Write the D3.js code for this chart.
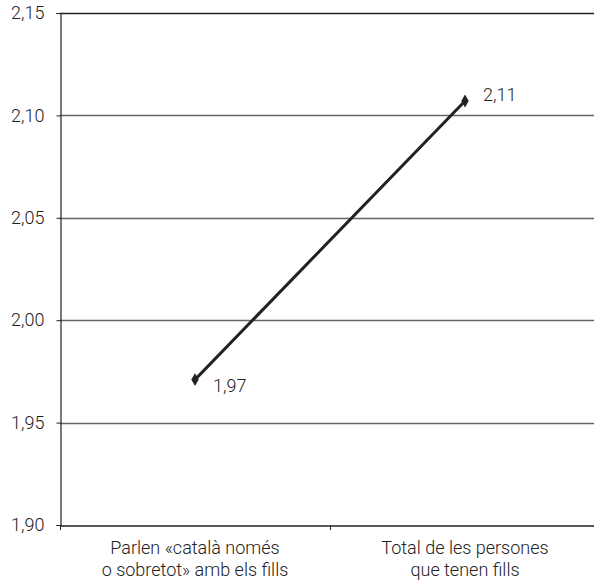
<!DOCTYPE html>
<html>
<head>
<meta charset="utf-8">
<script src="https://cdn.jsdelivr.net/npm/d3@7"></script>
<style>
  html, body { margin: 0; padding: 0; background: #fff; }
  svg { display: block; }
  text { font-family: Roboto, "Liberation Sans", sans-serif; font-weight: 300; fill: #222; }
</style>
</head>
<body>
<svg id="chart" width="594" height="580"></svg>
<script>
// Categories (two-line labels) and mean values
const categories = [
  ["Parlen «català només", "o sobretot» amb els fills"],
  ["Total de les persones", "que tenen fills"]
];
const values = [1.971, 2.107];
const yTicks = [1.90, 1.95, 2.00, 2.05, 2.10, 2.15];

const svg = d3.select("#chart");
const plotLeft = 60, plotTop = 13, plotBottom = 525, plotRight = 600;
const fontSize = 18;

const x = d3.scaleBand().domain(d3.range(categories.length)).range([plotLeft, plotRight]);
const y = d3.scaleLinear().domain([1.90, 2.15]).range([plotBottom, plotTop]);
const fmt = v => d3.format(".2f")(v).replace(".", ",");

// horizontal gridlines
svg.append("g")
  .selectAll("line")
  .data(yTicks.slice(1, -1))
  .join("line")
  .attr("x1", plotLeft).attr("x2", 594)
  .attr("y1", d => Math.round(y(d)) + 0.5).attr("y2", d => Math.round(y(d)) + 0.5)
  .attr("stroke", "#666").attr("stroke-width", 1.3);

// top border line
svg.append("line")
  .attr("x1", plotLeft).attr("x2", 594)
  .attr("y1", y(2.15) + 0.5).attr("y2", y(2.15) + 0.5)
  .attr("stroke", "#222").attr("stroke-width", 1.3);

// y axis
const yAxis = d3.axisLeft(y).tickValues(yTicks).tickFormat(fmt).tickSize(4).tickPadding(12);
const gy = svg.append("g").attr("transform", `translate(${plotLeft + 0.5},0)`).call(yAxis);
gy.select(".domain").attr("stroke", "#222").attr("stroke-width", 1.2);
gy.selectAll(".tick line").attr("stroke", "#222");
gy.selectAll("text").attr("font-size", fontSize).attr("fill", "#222")
  .style("font-family", "Roboto, sans-serif").style("font-weight", 300);

// x axis
const xAxis = d3.axisBottom(x).tickSize(0).tickFormat("");
const gx = svg.append("g").attr("transform", `translate(0,${plotBottom + 0.5})`).call(xAxis);
gx.select(".domain").attr("stroke", "#222").attr("stroke-width", 1.3);
gx.selectAll(".tick").remove();
// category boundary ticks
svg.append("g").selectAll("line")
  .data(d3.range(categories.length))
  .join("line")
  .attr("x1", i => x(i) + 0.5).attr("x2", i => x(i) + 0.5)
  .attr("y1", plotBottom).attr("y2", plotBottom + 5)
  .attr("stroke", "#222");

// category labels
svg.append("g").selectAll("text")
  .data(categories)
  .join("text")
  .attr("text-anchor", "middle")
  .attr("font-size", fontSize)
  .attr("transform", (d, i) => `translate(${x(i) + x.bandwidth() / 2},0)`)
  .selectAll("tspan")
  .data(d => d)
  .join("tspan")
  .attr("x", 0)
  .attr("y", (d, j) => 554 + j * 22)
  .text(d => d);

// line series
const line = d3.line()
  .x((d, i) => x(i) + x.bandwidth() / 2)
  .y(d => y(d));
svg.append("path")
  .datum(values)
  .attr("d", line)
  .attr("fill", "none")
  .attr("stroke", "#222")
  .attr("stroke-width", 3);

// diamond markers
const diamond = d3.symbol().type(d3.symbolDiamond).size(48);
svg.append("g").selectAll("path")
  .data(values)
  .join("path")
  .attr("d", diamond)
  .attr("transform", (d, i) => `translate(${x(i) + x.bandwidth() / 2},${y(d)})`)
  .attr("fill", "#222");

// value labels
svg.append("g").selectAll("text")
  .data(values)
  .join("text")
  .attr("x", (d, i) => x(i) + x.bandwidth() / 2 + 18)
  .attr("y", (d, i) => y(d) + (i === 0 ? 12 : 0))
  .attr("font-size", fontSize)
  .text(d => fmt(d));
</script>
</body>
</html>
